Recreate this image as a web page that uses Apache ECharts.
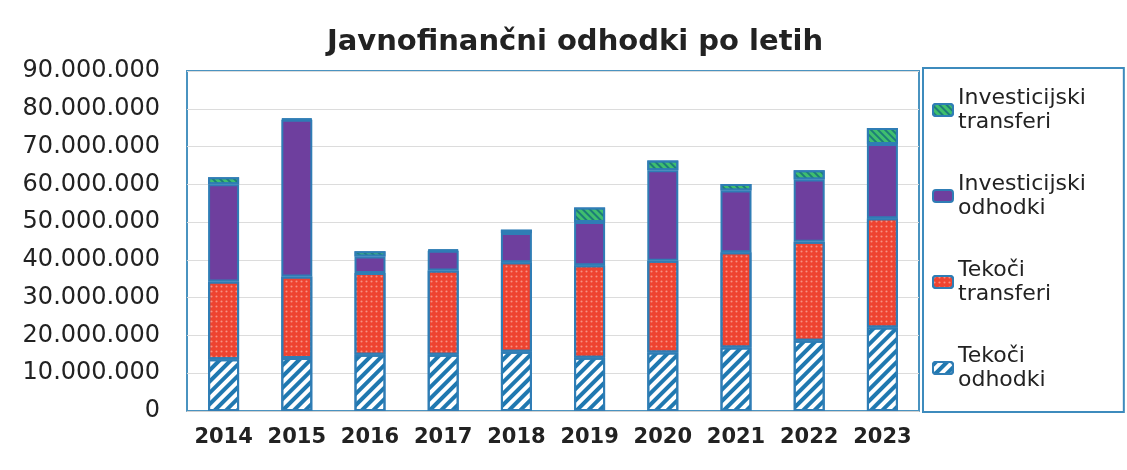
<!DOCTYPE html>
<html>
<head>
<meta charset="utf-8">
<script src="https://cdn.jsdelivr.net/npm/echarts@6/dist/echarts.min.js"></script>
<style>
  html, body { margin: 0; padding: 0; background: #ffffff; }
  #chart { width: 1127px; height: 470px; }
</style>
</head>
<body>
<div id="chart"></div>
<script>
// ---- data (EUR) ----
const years = ['2014', '2015', '2016', '2017', '2018', '2019', '2020', '2021', '2022', '2023'];
const tekociOdhodki   = [13700000, 14000000, 14900000, 14900000, 15700000, 14100000, 15500000, 16800000, 18600000, 22100000];
const tekociTransferi = [20600000, 21600000, 21600000, 22300000, 23700000, 24500000, 24300000, 25200000, 26200000, 28900000];
const invOdhodki      = [25700000, 41500000, 4400000, 5200000, 7700000, 11400000, 23900000, 16400000, 16500000, 19700000];
const invTransferi    = [1900000, 300000, 1400000, 300000, 900000, 3900000, 2600000, 1700000, 2400000, 4200000];
const yTickLabels = ['0', '10.000.000', '20.000.000', '30.000.000', '40.000.000', '50.000.000', '60.000.000', '70.000.000', '80.000.000', '90.000.000'];
const seriesNames = ['Tekoči odhodki', 'Tekoči transferi', 'Investicijski odhodki', 'Investicijski transferi'];

const FONT = 'DejaVu Sans';
const BORDER = '#2f7db5';

const chart = echarts.init(document.getElementById('chart'), null, { renderer: 'canvas' });

const barBase = { type: 'bar', stack: 'total', barWidth: 31 };

chart.setOption({
  backgroundColor: '#ffffff',
  animation: false,
  title: {
    text: 'Javnofinančni odhodki po letih',
    left: 570,
    textAlign: 'center',
    top: 23,
    textStyle: { fontFamily: FONT, fontWeight: 'bold', fontSize: 29, color: '#222222' }
  },
  legend: {
    orient: 'vertical',
    left: 923,
    top: 68,
    padding: [18, 38, 20, 9],
    itemGap: 38,
    itemWidth: 20,
    itemHeight: 12,
    borderColor: '#3d8bbd',
    borderWidth: 2,
    data: [seriesNames[3], seriesNames[2], seriesNames[1], seriesNames[0]],
    formatter: (n) => n.replace(' ', '\n'),
    textStyle: { fontFamily: FONT, fontSize: 22, lineHeight: 24, color: '#222222' }
  },
  grid: {
    left: 187, top: 71, width: 732, height: 340,
    show: true, borderColor: '#4a93c0', borderWidth: 2, containLabel: false
  },
  xAxis: {
    type: 'category',
    data: years,
    axisLine: { show: true, lineStyle: { color: '#d0d0d0' } },
    axisTick: { show: false },
    axisLabel: { interval: 0, margin: 16, fontFamily: FONT, fontWeight: 'bold', fontSize: 21, color: '#222222' }
  },
  yAxis: {
    type: 'value',
    min: 0, max: 90000000, interval: 10000000,
    axisLine: { show: false },
    axisTick: { show: false },
    splitLine: { lineStyle: { color: '#dcdcdc', width: 1 } },
    axisLabel: {
      margin: 27, fontFamily: FONT, fontSize: 24, color: '#222222',
      formatter: (v) => yTickLabels[Math.round(v / 10000000)]
    }
  },
  series: [
    Object.assign({}, barBase, {
      name: seriesNames[0], data: tekociOdhodki,
      itemStyle: {
        color: '#ffffff', borderColor: BORDER, borderWidth: 2,
        decal: { symbol: 'rect', symbolSize: 1, color: '#1f78b0', dashArrayX: [1, 0], dashArrayY: [4, 4], rotation: -Math.PI / 4 }
      }
    }),
    Object.assign({}, barBase, {
      name: seriesNames[1], data: tekociTransferi,
      itemStyle: {
        color: '#ee4330', borderColor: BORDER, borderWidth: 2,
        decal: { symbol: 'circle', symbolSize: 0.7, color: 'rgba(255,210,200,0.55)', dashArrayX: [3, 2], dashArrayY: [3, 2], rotation: 0 }
      }
    }),
    Object.assign({}, barBase, {
      name: seriesNames[2], data: invOdhodki,
      itemStyle: { color: '#6e3f9e', borderColor: BORDER, borderWidth: 2 }
    }),
    Object.assign({}, barBase, {
      name: seriesNames[3], data: invTransferi,
      itemStyle: {
        color: '#3fbf6e', borderColor: BORDER, borderWidth: 2,
        decal: { symbol: 'rect', symbolSize: 1, color: '#1c7d78', dashArrayX: [1, 0], dashArrayY: [2, 3], rotation: Math.PI / 4 }
      }
    })
  ]
});
</script>
</body>
</html>
